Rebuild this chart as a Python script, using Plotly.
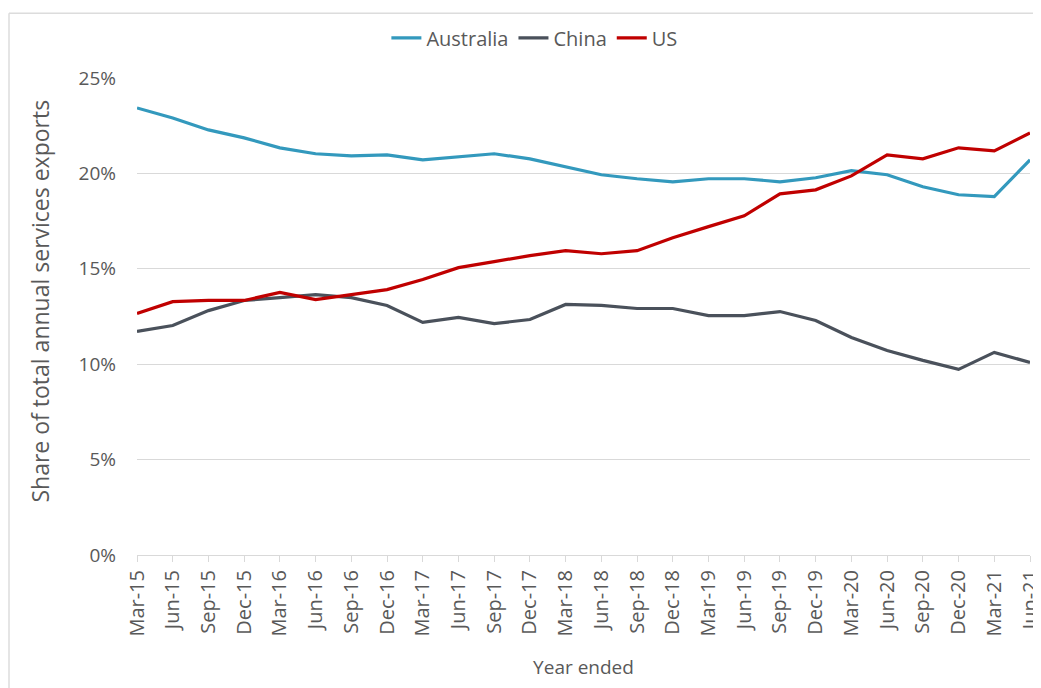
import plotly.graph_objects as go

quarters = ["Mar-15","Jun-15","Sep-15","Dec-15","Mar-16","Jun-16","Sep-16","Dec-16",
            "Mar-17","Jun-17","Sep-17","Dec-17","Mar-18","Jun-18","Sep-18","Dec-18",
            "Mar-19","Jun-19","Sep-19","Dec-19","Mar-20","Jun-20","Sep-20","Dec-20",
            "Mar-21","Jun-21"]
australia = [23.43,22.9,22.28,21.86,21.34,21.03,20.92,20.97,20.71,20.87,21.03,20.76,
             20.35,19.93,19.72,19.56,19.72,19.72,19.56,19.77,20.14,19.93,19.3,18.88,18.78,20.71]
china = [11.72,12.03,12.81,13.34,13.49,13.65,13.49,13.08,12.19,12.45,12.13,12.34,
         13.13,13.08,12.92,12.92,12.55,12.55,12.76,12.29,11.4,10.72,10.2,9.73,10.62,10.09]
us = [12.66,13.28,13.34,13.34,13.76,13.39,13.65,13.91,14.44,15.06,15.38,15.69,
      15.95,15.79,15.95,16.63,17.21,17.78,18.93,19.14,19.87,20.97,20.76,21.34,21.18,22.12]
y_ticks = [0,5,10,15,20,25]
y_ticklabels = ["0%","5%","10%","15%","20%","25%"]

series = [("Australia", australia, "#3399BD"),
          ("China", china, "#4A515B"),
          ("US", us, "#C00000")]

fig = go.Figure()
for name, vals, col in series:
    fig.add_trace(go.Scatter(x=quarters, y=vals, name=name, mode="lines",
                             line=dict(color=col, width=3.2)))

font = "Open Sans"
W, H = 1033, 680
L, R, T, B = 129, 11, 69, 133
pw, ph = W - L - R, H - T - B

fig.update_layout(
    width=W, height=H,
    margin=dict(l=L, r=R, t=T, b=B),
    paper_bgcolor="white", plot_bgcolor="white",
    font=dict(family=font, color="#595959", size=19),
    legend=dict(orientation="h", x=0.445, xanchor="center", y=1.082, yanchor="middle",
                font=dict(size=20, color="#595959"), itemwidth=30, tracegroupgap=0),
    showlegend=True,
)
fig.update_xaxes(type="category", tickangle=-90, tickfont=dict(size=20),
                 showline=True, linecolor="#d9d9d9", ticks="outside", tickcolor="#d9d9d9",
                 ticklen=6, showgrid=False, range=[0, 25], automargin=False,
                 title=dict(text="Year ended", font=dict(size=19), standoff=25))
fig.update_yaxes(range=[0, 25], tickvals=y_ticks, ticktext=y_ticklabels,
                 showgrid=True, gridcolor="#d9d9d9", gridwidth=1, zeroline=False,
                 ticks="", tickfont=dict(size=19), ticklabelstandoff=20, automargin=False)
# y-axis title placed as in the reference (slightly above plot centre)
fig.add_annotation(text="Share of total annual services exports", textangle=-90,
                   xref="paper", yref="paper", x=(40 - 137) / pw, y=(555 - 301) / ph,
                   xanchor="center", yanchor="middle", showarrow=False,
                   font=dict(size=23, color="#595959"))
# light frame around the chart
fig.add_shape(type="line", xref="paper", yref="paper", x0=(9 - 137) / pw, x1=1.02,
              y0=(555 - 12) / ph, y1=(555 - 12) / ph, line=dict(color="#dcdcdc", width=1.5))
fig.add_shape(type="line", xref="paper", yref="paper", x0=(9 - 137) / pw, x1=(9 - 137) / pw,
              y0=-0.3, y1=(555 - 12) / ph, line=dict(color="#dcdcdc", width=1.5))
fig.write_html("out.html")
